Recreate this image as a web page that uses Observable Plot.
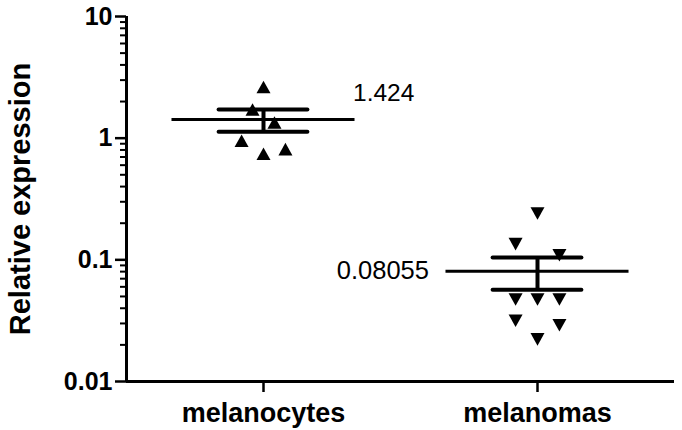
<!DOCTYPE html>
<html><head><meta charset="utf-8">
<script src="https://cdn.jsdelivr.net/npm/d3@7"></script>
<script src="https://cdn.jsdelivr.net/npm/@observablehq/plot@0.6"></script>
<style>body{margin:0;background:#fff} svg{display:block}</style>
</head><body><div id="chart"></div>
<script>
const groups = ["melanocytes", "melanomas"];
const melanocytes = [2.63, 1.72, 1.347, 0.952, 0.744, 0.813];
const melanocyteSlots = [0, -1, 1, -2, 0, 2];
const melanomas = [0.240, 0.1345, 0.109, 0.0472, 0.0472, 0.0472, 0.0316, 0.0290, 0.0222];
const melanomaSlots = [0, -2, 2, -2, 0, 2, -2, 2, 0];
const means = [1.424, 0.08055];
const meanLabels = ["1.424", "0.08055"];
const yTicks = [0.01, 0.1, 1, 10];
const yTickLabels = ["0.01", "0.1", "1", "10"];
const yTitle = "Relative expression";

const slotStep = 0.04, meanHalf = 0.334, capHalf = 0.162;
const series = [melanocytes, melanomas];
const slots = [melanocyteSlots, melanomaSlots];
const points = series.map((vals, g) => vals.map((v, k) => ({g, value: v, x: g + 0.5 + slots[g][k] * slotStep})));
const summary = series.map((vals, g) => {
  const sem = d3.deviation(vals) / Math.sqrt(vals.length);
  return {g, mean: means[g], lo: means[g] - sem, hi: means[g] + sem, label: meanLabels[g], cx: g + 0.5};
});
const minorTicks = [];
for (const dec of [0.01, 0.1, 1]) for (let m = 2; m <= 9; m++) minorTicks.push(+(dec * m).toPrecision(3));

const upTri = {draw(c, size) { const r = Math.sqrt(size / Math.PI); c.moveTo(0, -0.9 * r); c.lineTo(r, 0.9 * r); c.lineTo(-r, 0.9 * r); c.closePath(); }};
const downTri = {draw(c, size) { const r = Math.sqrt(size / Math.PI); c.moveTo(0, 0.9 * r); c.lineTo(r, -0.9 * r); c.lineTo(-r, -0.9 * r); c.closePath(); }};

const chart = Plot.plot({
  width: 682, height: 430,
  marginLeft: 126, marginRight: 8, marginTop: 16, marginBottom: 49,
  style: {fontFamily: "'Liberation Sans', Arial, sans-serif", background: "#fff", color: "#000"},
  x: {domain: [0, 2]},
  y: {type: "log", domain: [0.01, 10]},
  marks: [
    Plot.dot(points[0], {x: "x", y: "value", symbol: upTri, r: 7, fill: "black", stroke: "none"}),
    Plot.dot(points[1], {x: "x", y: "value", symbol: downTri, r: 7, fill: "black", stroke: "none"}),
    Plot.ruleY(summary, {y: "mean", x1: d => d.cx - meanHalf, x2: d => d.cx + meanHalf, stroke: "black", strokeWidth: 3}),
    Plot.ruleY(summary, {y: "hi", x1: d => d.cx - capHalf, x2: d => d.cx + capHalf, stroke: "black", strokeWidth: 4, strokeLinecap: "round"}),
    Plot.ruleY(summary, {y: "lo", x1: d => d.cx - capHalf, x2: d => d.cx + capHalf, stroke: "black", strokeWidth: 4, strokeLinecap: "round"}),
    Plot.ruleX(summary, {x: "cx", y1: "lo", y2: "hi", stroke: "black", strokeWidth: 4}),
    Plot.text([summary[0]], {x: d => d.cx + meanHalf, y: "mean", text: "label", textAnchor: "start", dx: -2, dy: -26, fontSize: 24.5, fill: "black"}),
    Plot.text([summary[1]], {x: d => d.cx - meanHalf, y: "mean", text: "label", textAnchor: "end", dx: -17, dy: 0, fontSize: 25.5, fill: "black"}),
    Plot.axisY(minorTicks, {tickSize: 6, tickPadding: 0, strokeWidth: 2, stroke: "black", tickFormat: () => "", label: null}),
    Plot.axisY(yTicks, {tickSize: 11, tickPadding: 3, strokeWidth: 2.5, tickFormat: d => yTickLabels[yTicks.indexOf(d)], fontSize: 25, fontWeight: "bold", fill: "black", stroke: "black", label: null}),
    Plot.axisX([0.5, 1.5], {tickSize: 11, tickPadding: 10, strokeWidth: 2.5, tickFormat: d => groups[Math.floor(d)], fontSize: 27, fontWeight: "bold", fill: "black", stroke: "black", label: null}),
    Plot.ruleX([0], {y1: 0.01, y2: 10, stroke: "black", strokeWidth: 3}),
    Plot.ruleY([0.01], {x1: 0, x2: 2, stroke: "black", strokeWidth: 3}),
    Plot.text([yTitle], {frameAnchor: "left", textAnchor: "middle", rotate: -90, dx: -106, fontSize: 29, fontWeight: "bold", fill: "black"})
  ]
});
document.getElementById("chart").appendChild(chart);
</script></body></html>
